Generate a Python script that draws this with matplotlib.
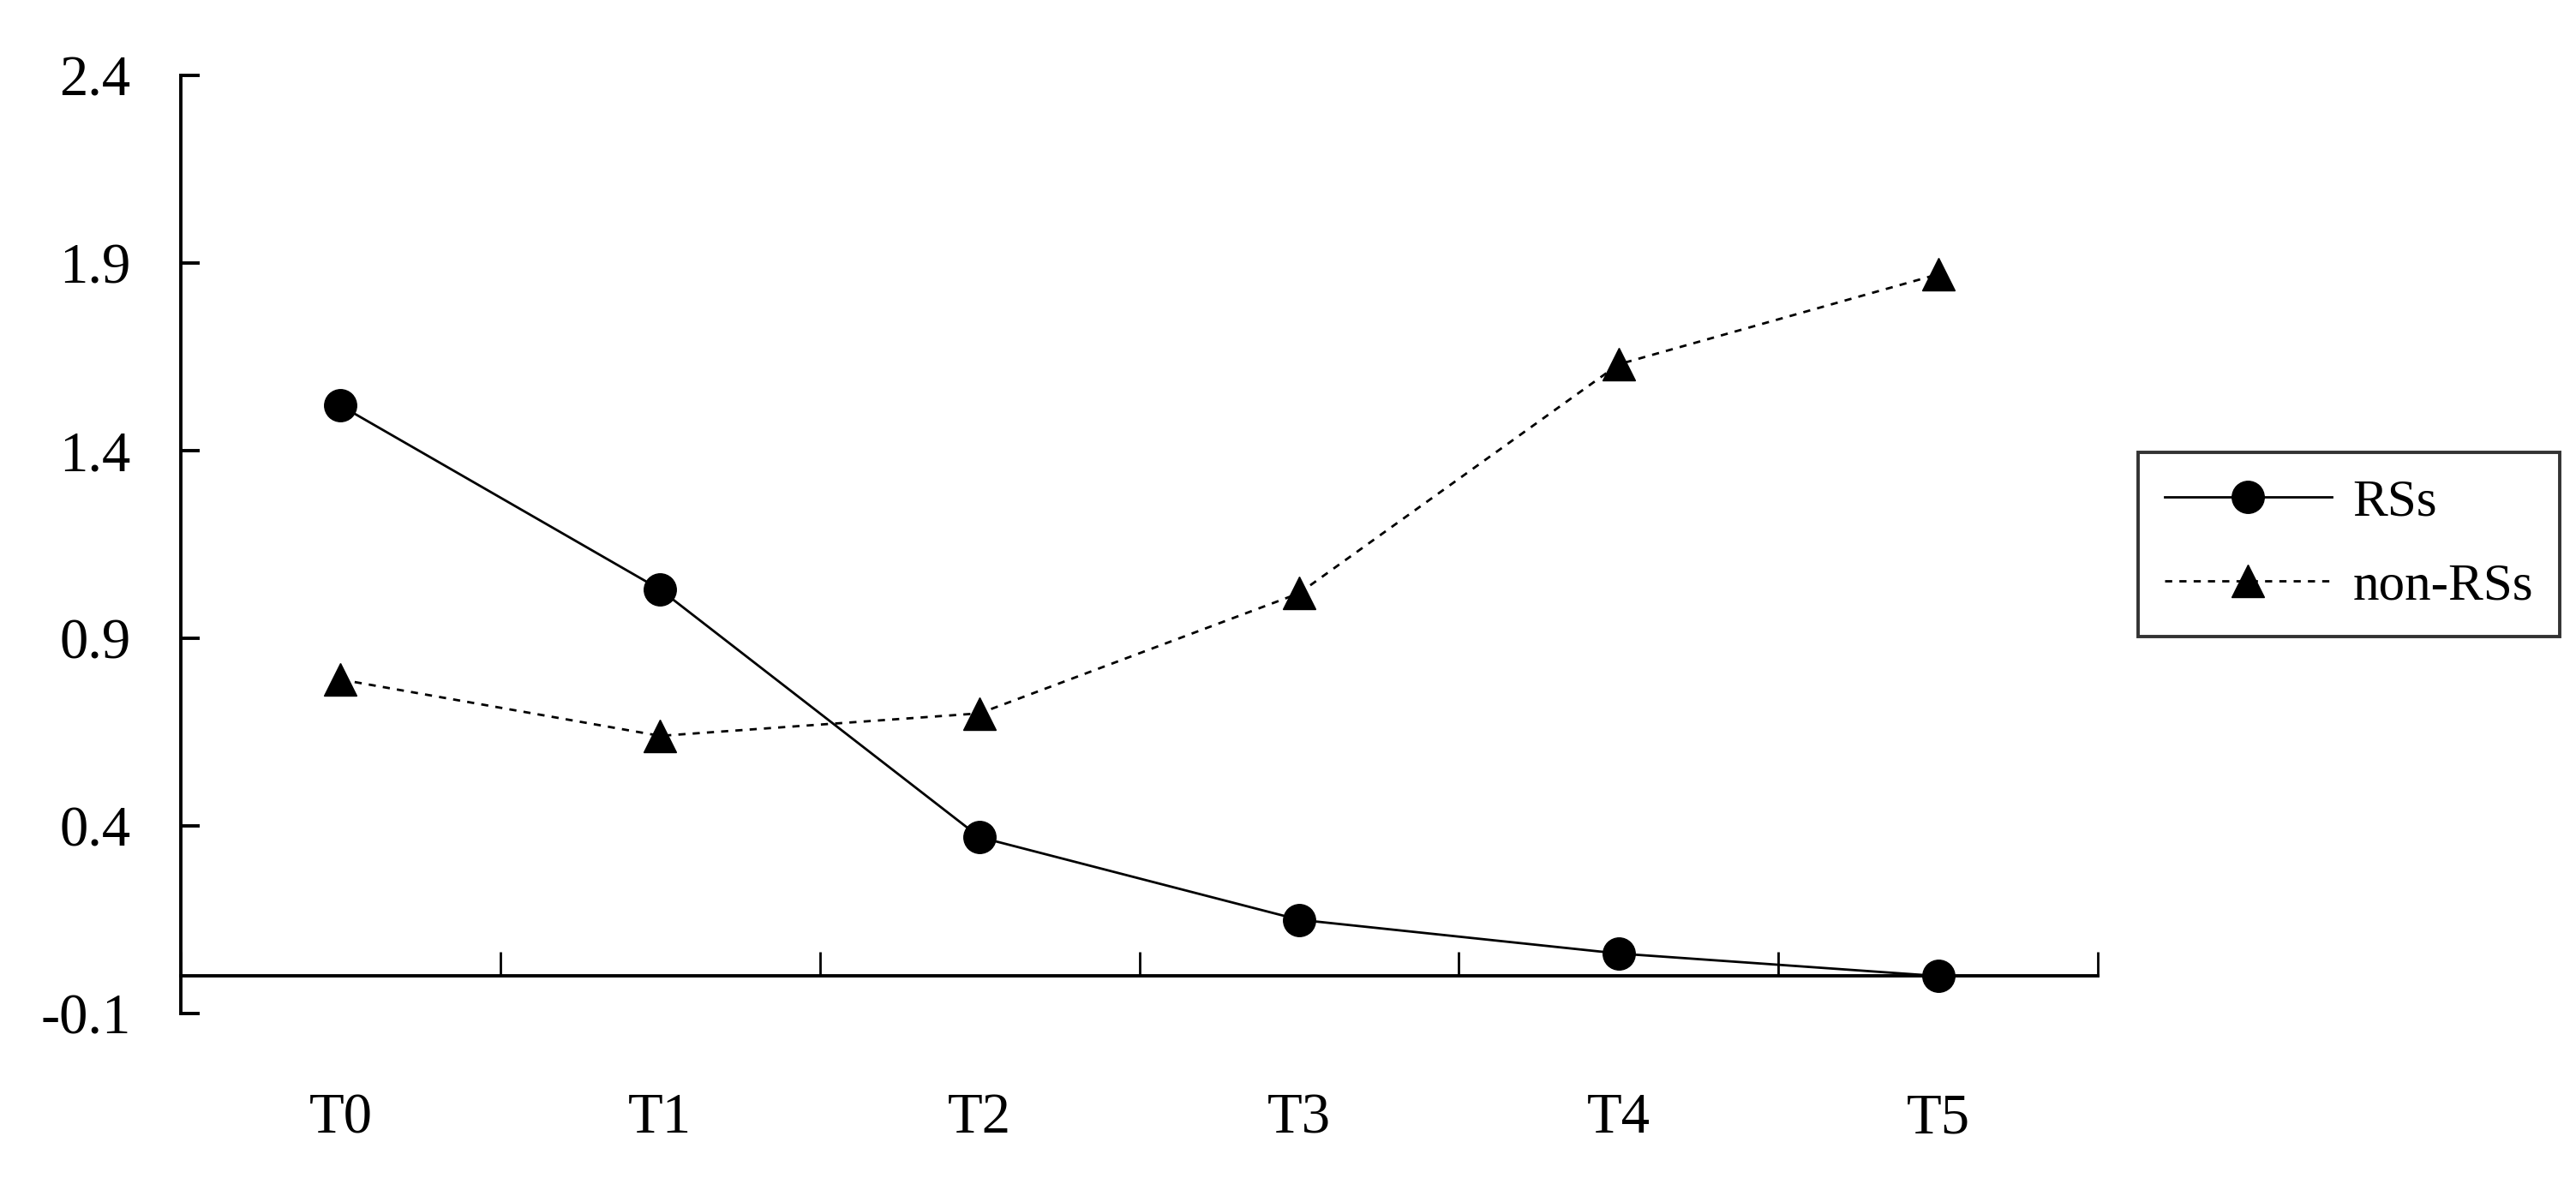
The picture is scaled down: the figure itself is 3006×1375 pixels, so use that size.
import matplotlib.pyplot as plt
import matplotlib.transforms as mtransforms

plt.rcParams['font.family'] = ['Liberation Serif', 'DejaVu Serif']

times = ['T0', 'T1', 'T2', 'T3', 'T4', 'T5']
rss = [1.52, 1.03, 0.37, 0.15, 0.06, 0.0]
non_rss = [0.79, 0.64, 0.70, 1.02, 1.63, 1.87]
y_ticks = [-0.1, 0.4, 0.9, 1.4, 1.9, 2.4]

fig = plt.figure(figsize=(30.06, 13.75), dpi=100)
ax = fig.add_axes([0.0702, 0.1396, 0.7442, 0.7964])

x = list(range(len(times)))
ax.plot(x, rss, color='black', lw=2, marker='o', ms=27, label='RSs')
ax.plot(x, non_rss, color='black', lw=2, ls=(0, (3, 3)), marker='^', ms=27, label='non-RSs')

ax.set_xlim(-0.5, len(times) - 0.5)
ax.set_ylim(-0.1, 2.4)

# excel style axes: x axis crosses at 0
ax.spines['top'].set_visible(False)
ax.spines['right'].set_visible(False)
ax.spines['bottom'].set_position(('data', 0))
ax.spines['left'].set_linewidth(2.8)
ax.spines['bottom'].set_linewidth(2.8)

ax.set_yticks(y_ticks)
ax.set_yticklabels([f'{v:.1f}' for v in y_ticks])
ax.tick_params(axis='y', direction='in', length=16, width=2.8, labelsize=48, pad=42)

ax.set_xticks([i + 0.5 for i in range(-1, len(times))])
ax.set_xticklabels([])
ax.tick_params(axis='x', direction='in', length=20, width=2)

trans = mtransforms.blended_transform_factory(ax.transData, ax.transAxes)
for i, t in enumerate(times):
    ax.text(i, -0.112, t, transform=trans, ha='center', va='center', fontsize=48)

leg = ax.legend(loc='center left', bbox_to_anchor=(1.021, 0.5), borderaxespad=0,
                fontsize=44, frameon=True, fancybox=False, edgecolor='black',
                numpoints=1, handlelength=3.2, handletextpad=0.4,
                borderpad=0.5, labelspacing=0.7)
leg.get_frame().set_linewidth(2.8)

fig.savefig('out.png', dpi=100, facecolor='white')
